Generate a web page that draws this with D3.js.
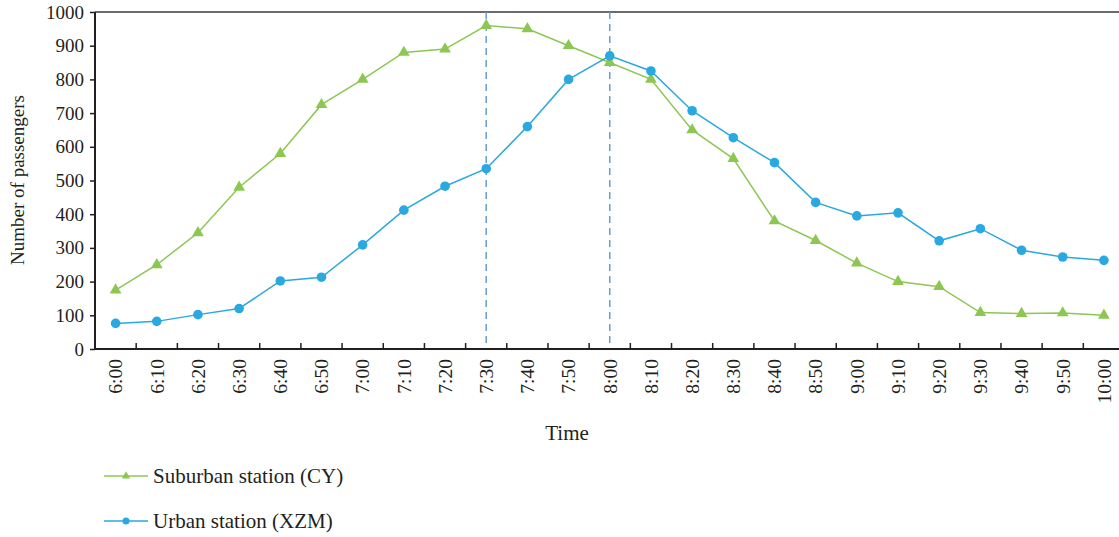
<!DOCTYPE html>
<html><head><meta charset="utf-8">
<script src="https://cdn.jsdelivr.net/npm/d3@7"></script>
<style>
body{margin:0;background:#fff;}
svg{display:block;}
text{font-family:"Liberation Serif","DejaVu Serif",serif;fill:#231f20;}
</style></head>
<body>
<svg id="chart" width="1119" height="537"></svg>
<script>
const times = ["6:00","6:10","6:20","6:30","6:40","6:50","7:00","7:10","7:20","7:30","7:40","7:50","8:00","8:10","8:20","8:30","8:40","8:50","9:00","9:10","9:20","9:30","9:40","9:50","10:00"];
const suburban = [175,250,345,480,580,725,800,880,890,960,950,900,850,800,650,565,380,322,255,200,185,108,105,107,100];
const urban = [76,82,102,120,202,213,309,412,483,535,660,800,870,825,707,627,553,435,395,404,321,357,293,273,263];
const yTicks = [0,100,200,300,400,500,600,700,800,900,1000];
const markedTimes = ["7:30","8:00"];
const seriesNames = ["Suburban station (CY)","Urban station (XZM)"];

(function(){
const svg = d3.select("#chart");
const mLeft = 95, mTop = 12, mBottom = 349, plotRight = 1124.5;
const green = "#8cc752", blue = "#2aa8e0";

const x = d3.scaleBand().domain(times).range([mLeft, plotRight]).paddingInner(0).paddingOuter(0);
const cx = d => x(d) + x.bandwidth()/2;
const y = d3.scaleLinear().domain([0,1000]).range([mBottom, mTop]);

// top border
svg.append("line").attr("x1", mLeft).attr("x2", 1119).attr("y1", mTop).attr("y2", mTop)
  .attr("stroke", "#6b6b6b").attr("stroke-width", 2);

// dashed lines
svg.selectAll(".vl").data(markedTimes).enter().append("line")
  .attr("x1", d => cx(d)).attr("x2", d => cx(d))
  .attr("y1", mTop).attr("y2", mBottom)
  .attr("stroke", "#6b9bd1").attr("stroke-width", 1.5).attr("stroke-dasharray", "7,5");

// y axis
const yAxis = svg.append("g").attr("transform", `translate(${mLeft},0)`)
  .call(d3.axisLeft(y).tickValues(yTicks).tickSize(5).tickPadding(6).tickFormat(d3.format("d")));
yAxis.select(".domain").attr("stroke", "#231f20").attr("stroke-width", 2).attr("d", `M0,${mTop}V${mBottom}`);
yAxis.selectAll(".tick line").attr("stroke", "#231f20").attr("stroke-width", 1.5);
yAxis.selectAll("text").style("font-size", "19px").attr("fill", "#231f20").style("font-family", "Liberation Serif");

// x axis
const xAxisG = svg.append("g").attr("transform", `translate(0,${mBottom})`);
xAxisG.append("line").attr("x1", mLeft).attr("x2", 1119).attr("y1", 0).attr("y2", 0)
  .attr("stroke", "#231f20").attr("stroke-width", 2);
const boundaries = times.map(t => x(t)).concat([plotRight]).slice(1);
xAxisG.selectAll(".xt").data(boundaries).enter().append("line")
  .attr("x1", d => d).attr("x2", d => d).attr("y1", 0).attr("y2", -6)
  .attr("stroke", "#231f20").attr("stroke-width", 1.5);
xAxisG.selectAll(".xl").data(times).enter().append("text")
  .attr("transform", d => `translate(${cx(d)},10) rotate(-90)`)
  .attr("text-anchor", "end").attr("dy", "0.35em")
  .style("font-size", "19.5px").text(d => d);

// axis titles
svg.append("text").attr("transform", `translate(24,180) rotate(-90)`)
  .attr("text-anchor", "middle").style("font-size", "19px").text("Number of passengers");
svg.append("text").attr("x", 567).attr("y", 440).attr("text-anchor", "middle")
  .style("font-size", "21px").text("Time");

// lines
const line = d3.line().x((d,i) => cx(times[i])).y(d => y(d));
svg.append("path").datum(suburban).attr("d", line).attr("fill", "none")
  .attr("stroke", green).attr("stroke-width", 1.5);
svg.append("path").datum(urban).attr("d", line).attr("fill", "none")
  .attr("stroke", blue).attr("stroke-width", 1.5);

const tri = d3.symbol().type(d3.symbolTriangle).size(60);
svg.selectAll(".tri").data(suburban).enter().append("path")
  .attr("d", tri).attr("transform", (d,i) => `translate(${cx(times[i])},${y(d)})`)
  .attr("fill", green);
svg.selectAll(".dot").data(urban).enter().append("circle")
  .attr("cx", (d,i) => cx(times[i])).attr("cy", d => y(d)).attr("r", 4.8)
  .attr("fill", blue);

// legend
const lg = svg.append("g");
[[seriesNames[0], green, "tri", 476], [seriesNames[1], blue, "dot", 521]].forEach(([name, col, m, ly]) => {
  lg.append("line").attr("x1", 104).attr("x2", 148).attr("y1", ly).attr("y2", ly)
    .attr("stroke", col).attr("stroke-width", 1.5);
  if (m === "tri") lg.append("path").attr("d", d3.symbol().type(d3.symbolTriangle).size(30)())
    .attr("transform", `translate(126,${ly})`).attr("fill", col);
  else lg.append("circle").attr("cx", 126).attr("cy", ly).attr("r", 3.5).attr("fill", col);
  lg.append("text").attr("x", 153).attr("y", ly + 7).style("font-size", "21px").text(name);
});
})();
</script>
</body></html>
